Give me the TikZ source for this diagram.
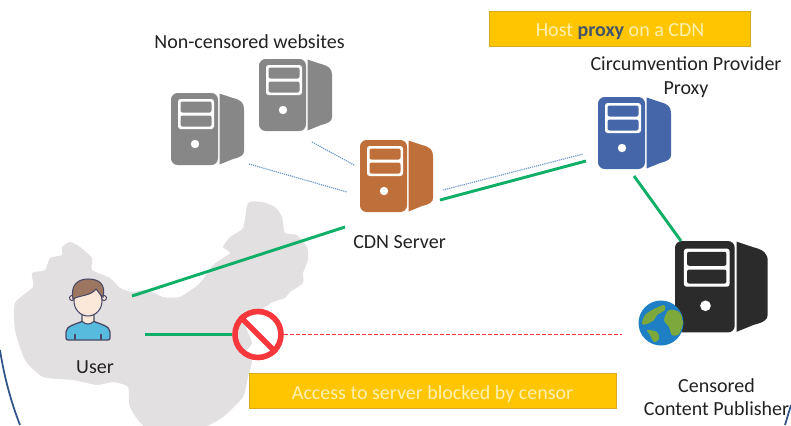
\documentclass[tikz,border=0pt]{standalone}
\usepackage{fontspec}
\setmainfont{Carlito}
\definecolor{srvgrey}{HTML}{878787}
\definecolor{srvorange}{HTML}{BF6F39}
\definecolor{srvblue}{HTML}{4567A9}
\definecolor{srvblack}{HTML}{2B2B2B}
\definecolor{mapgrey}{HTML}{E2E0E1}
\definecolor{linkgreen}{HTML}{0FAF68}
\definecolor{dotblue}{HTML}{6F9BCB}
\definecolor{noticefill}{HTML}{FFC600}
\definecolor{noticeedge}{HTML}{D9A920}
\definecolor{noticetext}{HTML}{FFF0B0}
\definecolor{proxytext}{HTML}{44546A}
\definecolor{stopred}{HTML}{F6373C}
\definecolor{arcblue}{HTML}{2F5289}
\definecolor{textdark}{HTML}{222222}
\definecolor{userblue}{HTML}{56BBDD}
\definecolor{userline}{HTML}{4A4A68}
\definecolor{userskin}{HTML}{FBE8D8}
\definecolor{userhair}{HTML}{9C7660}
\definecolor{globesea}{HTML}{1E7FC4}
\definecolor{globeland}{HTML}{7DA83C}
\tikzset{
	label text/.style={font=\fontsize{15}{17.6}\selectfont, text=textdark, align=center, inner sep=0pt},
	notice/.style={draw=noticeedge, fill=noticefill, line width=.5pt, inner sep=0pt, minimum height=26pt,
		text height=14pt, text depth=2pt, font=\fontsize{15}{17}\selectfont, text=noticetext},
	green link/.style={draw=linkgreen, line width=2.2pt},
	dot link/.style={draw=dotblue, line width=.9pt, dotted, dash pattern=on .9pt off .7pt},
	pics/server/.style={code={
		\fill[#1, rounded corners=5pt] (0,0) rectangle (47,72);
		\fill[#1] (48.5,.5) -- (62,5) .. controls (70,7) and (73,10) .. (73,16) -- (73,58)
			.. controls (73,62) and (70,64) .. (62,66) -- (48.5,71.5) -- cycle;
		\fill[white, rounded corners=2pt] (7,6) rectangle (43,36);
		\fill[#1, rounded corners=1.5pt] (9.5,8.5) rectangle (40.5,19.5);
		\fill[#1, rounded corners=1.5pt] (9.5,22.5) rectangle (40.5,33.5);
		\fill[white] (24,51) circle (4.2);
	}},
	pics/user/.style={code={
		\filldraw[fill=userblue, draw=userline, line width=1pt, rounded corners=1.5pt] (-22,30) -- (-22,24)
			.. controls (-22,16) and (-12,14) .. (-5,11) -- (5,11)
			.. controls (12,14) and (22,16) .. (22,24) -- (22,30) -- cycle;
		\draw[userline, line width=.8pt] (-13,24) -- (-13,30) (13,24) -- (13,30);
		\filldraw[fill=userskin, draw=userline, line width=.8pt] (-6,3) -- (-6,11) .. controls (-3,15) and (3,15) .. (6,11) -- (6,3) -- cycle;
		\filldraw[fill=userskin, draw=userline, line width=.8pt] (-16,-12) circle (2.5) (16,-12) circle (2.5);
		\filldraw[fill=userskin, draw=userline, line width=.8pt] (0,-9) ellipse (14 and 15);
		\filldraw[fill=userhair, draw=userline, line width=.8pt] (-15,-11)
			.. controls (-18,-26) and (-9,-31) .. (0,-31)
			.. controls (11,-31) and (18,-26) .. (15,-13)
			.. controls (12,-15) and (10,-19) .. (8,-21)
			.. controls (3,-14) and (-8,-15) .. (-15,-11) -- cycle;
	}}
}

\begin{document}
\begin{tikzpicture}[x=.75pt, y=-.75pt]
	\useasboundingbox (0,0) rectangle (791,425);

	\fill[mapgrey] plot[smooth cycle, tension=.35] coordinates {
		(15,303) (33,287) (32,273) (45,270) (50,258) (62,255) (62,247) (70,242) (80,247)
		(92,258) (92,270) (110,278) (120,288) (132,292) (147,290) (163,297) (180,297)
		(200,283) (213,265) (230,253) (223,247) (230,237) (243,228) (248,203) (262,202)
		(275,207) (282,217) (285,233) (297,235) (307,247) (308,260) (303,273) (303,283)
		(290,292) (285,298) (273,302) (260,310) (243,315) (247,330) (252,343) (245,353)
		(252,360) (248,377) (243,397) (223,417) (200,428) (147,428) (130,407) (128,387)
		(113,382) (97,385) (73,380) (43,377) (25,360) (15,330)};

	\draw[arcblue, line width=1.3pt] (0,350) .. controls (4,376) and (11,402) .. (20,425);
	\draw[arcblue, line width=1.3pt] (791,405) -- (785,425);

	\pic (siteA) at (171,93) {server=srvgrey};
	\pic (siteB) at (259,59) {server=srvgrey};
	\pic (cdn) at (360,140) {server=srvorange};
	\pic (proxy) at (598,97) {server=srvblue};
	\pic[scale=1.27] (publisher) at (675,241) {server=srvblack};
	\pic (person) at (88,310) {user};

	\node[label text] (sitesLabel) at (249.5,41.5) {Non-censored websites};
	\node[label text] (proxyLabel) at (686,77) {Circumvention Provider\\Proxy};
	\node[label text] (cdnLabel) at (399.5,242) {CDN Server};
	\node[label text] (userLabel) at (95,367) {User};
	\node[label text] (publisherLabel) at (716.5,397) {Censored\\Content Publisher};

	\node[notice, minimum width=196pt] (hostBox) at (620,28.5) {Host \textcolor{proxytext}{\textbf{proxy}} on a CDN};
	\node[notice, minimum width=275pt] (blockBox) at (432.5,391) {Access to server blocked by censor};

	\node[circle, draw=stopred, line width=4.2pt, minimum size=34.5pt, inner sep=0pt] (stop) at (258,334.5) {};
	\draw[stopred, line width=4.2pt] (stop.135) -- (stop.-45);

	\coordinate (userA) at (132,296);
	\coordinate (userB) at (145,334.5);
	\coordinate (cdnW) at (345,227);
	\coordinate (cdnE) at (440,200);
	\coordinate (cdnDot) at (443,190);
	\coordinate (cdnA) at (347,192);
	\coordinate (cdnB) at (354,165);
	\coordinate (siteAend) at (249,164);
	\coordinate (siteBend) at (312,142);
	\coordinate (proxyW) at (586,161);
	\coordinate (proxyDot) at (583,154);
	\coordinate (proxyS) at (634,176);
	\coordinate (publisherN) at (681,241);
	\coordinate (publisherW) at (622,334.5);

	\draw[green link] (userA) -- (cdnW);
	\draw[green link] (cdnE) -- (proxyW);
	\draw[green link] (proxyS) -- (publisherN);
	\draw[green link] (userB) -- (stop.west);
	\draw[stopred, line width=1pt, dashed, dash pattern=on 3pt off 1.5pt] (stop.east) -- (publisherW);
	\draw[dot link] (siteAend) -- (cdnA);
	\draw[dot link] (siteBend) -- (cdnB);
	\draw[dot link] (cdnDot) -- (proxyDot);

	% globe
	\begin{scope}[shift={(661,323)}]
		\fill[globesea] (0,0) circle (22.5);
		\clip (0,0) circle (22);
		\fill[globeland] plot[smooth cycle, tension=.5] coordinates {(-19,1) (-16,-8) (-7,-14) (3,-18) (4,-13) (-4,-8) (-7,-3) (-14,1)};
		\fill[globeland] plot[smooth cycle, tension=.5] coordinates {(8,-13) (18,-11) (22,-1) (18,11) (11,12) (8,4) (3,-3)};
		\fill[globeland] plot[smooth cycle, tension=.5] coordinates {(-14,7) (-4,9) (-2,16) (-7,19) (-11,12)};
	\end{scope}
\end{tikzpicture}
\end{document}
